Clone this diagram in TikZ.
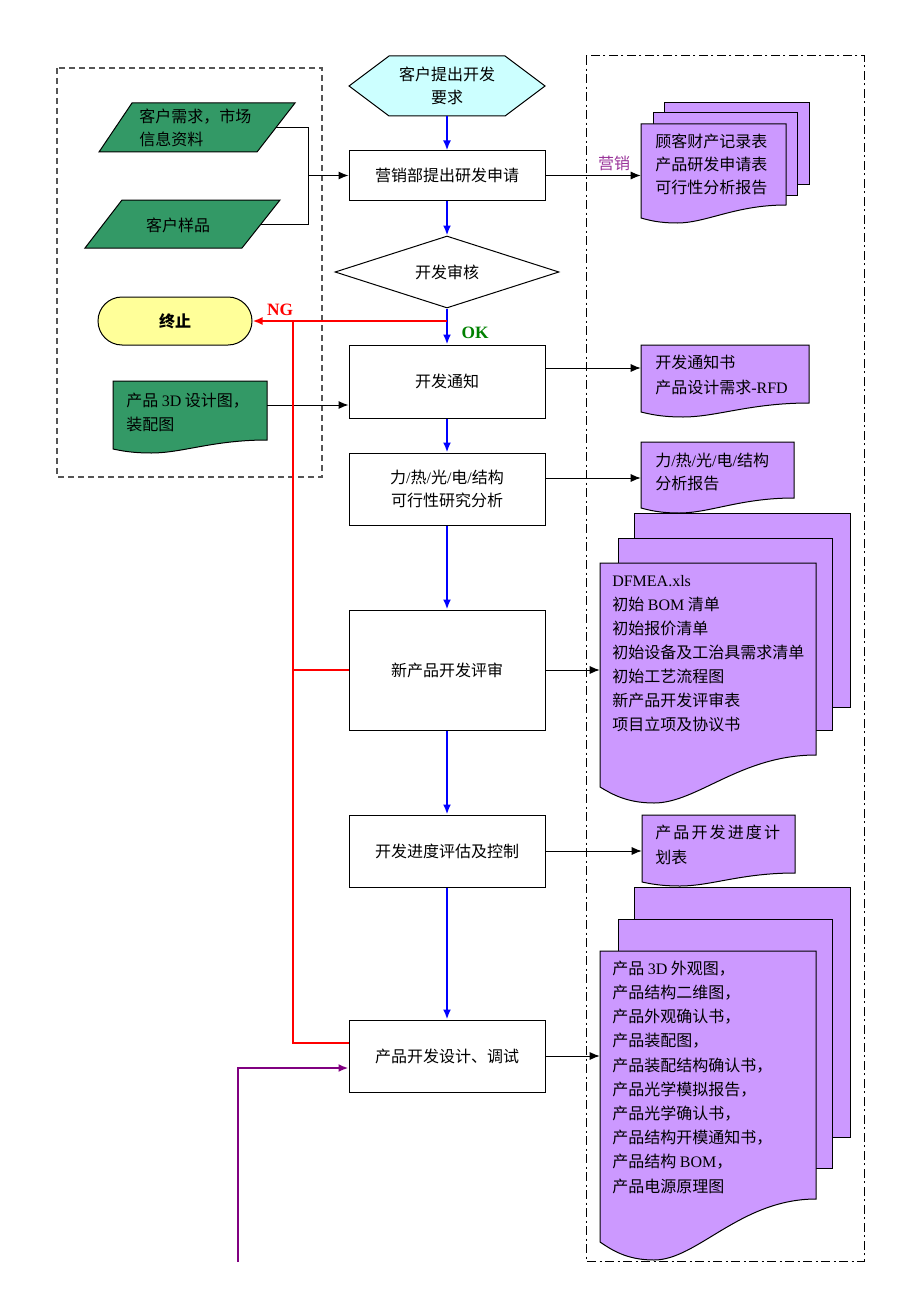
\documentclass[tikz,border=0pt]{standalone}
\usepackage{fontspec}
\setmainfont{Noto Sans CJK SC}
\newfontfamily\lat{Liberation Serif}
\usetikzlibrary{arrows.meta,shapes.geometric}
\definecolor{docfill}{HTML}{CC99FF}
\definecolor{grn}{HTML}{339966}
\definecolor{hexfill}{HTML}{CCFFFF}
\definecolor{termfill}{HTML}{FFFF99}
\definecolor{mk}{HTML}{993399}
\definecolor{pl}{HTML}{800080}
\definecolor{okgreen}{HTML}{008000}
\definecolor{dgray}{HTML}{555555}
% #1 style, #2 left, #3 top, #4 right, #5 bottom-right, #6 bottom-left, #7 lowest point
\newcommand{\docpath}[7]{%
  \draw[#1] (#2,#3) -- (#4,#3) -- (#4,#5)
    .. controls ({#4-0.35*(#4-#2)},#5) and ({#2+0.45*(#4-#2)},#7) .. ({#2+0.25*(#4-#2)},#7)
    .. controls ({#2+0.12*(#4-#2)},#7) and ({#2+0.05*(#4-#2)},{#6+0.4*(#7-#6)}) .. (#2,#6) -- cycle;}
\begin{document}
\begin{tikzpicture}[x=0.75pt,y=-0.75pt,
  font=\fontsize{12}{18}\selectfont,
  lw/.style={line width=0.75pt},
  box/.style={draw, fill=white, line width=0.75pt, minimum width=147pt, inner sep=0pt, align=center},
  flow/.style={blue, line width=1.5pt, -{Latex[length=7.5pt,width=6pt]}},
  conn/.style={black, line width=0.75pt, -{Latex[length=7.5pt,width=6pt]}},
  redline/.style={red, line width=1.5pt},
  docbg/.style={draw, fill=docfill, line width=0.75pt},
  dtext/.style={anchor=north west, inner sep=0pt, align=left},
  hold/.style={inner sep=0pt, draw=none}]
\useasboundingbox (0,0) rectangle (920,1302);

% ---- frames
\draw[dgray, line width=1pt, dash pattern=on 4.5pt off 3pt] (57,68) rectangle (322,477);
\draw[black, line width=0.75pt, dash pattern=on 7pt off 2.5pt on 1.5pt off 2.5pt] (586,56) rectangle (864,1261);

% ---- main column
\draw[fill=hexfill, lw] (349,86) -- (389,56) -- (505,56) -- (545,86) -- (505,116) -- (389,116) -- cycle;
\node[hold, minimum width=147pt, minimum height=45pt, align=center, font=\fontsize{12}{17.25}\selectfont] (req) at (447,86) {客户提出开发\\要求};
\node[box, minimum height=36.75pt] (apply) at (447,175.5) {营销部提出研发申请};
\node[draw, diamond, aspect=3.1, fill=white, minimum width=168pt, minimum height=54pt, inner sep=0pt, lw] (audit) at (447,272) {开发审核};
\node[box, minimum height=54.75pt] (notice) at (447,381.5) {开发通知};
\node[box, minimum height=54pt, font=\fontsize{12}{17.25}\selectfont] (feas) at (447,489) {力{\lat/}热{\lat/}光{\lat/}电{\lat/}结构\\可行性研究分析};
\node[box, minimum height=90pt] (review) at (447,670) {新产品开发评审};
\node[box, minimum height=54pt] (ctrl) at (447,851) {开发进度评估及控制};
\node[box, minimum height=54pt] (design) at (447,1056) {产品开发设计、调试};

% ---- left side
\draw[fill=grn, lw] (132,103) -- (295,103) -- (257,152) -- (99,152) -- cycle;
\node[hold, anchor=west, align=left, font=\fontsize{12}{17.25}\selectfont] (cust) at (139,128) {客户需求，市场\\信息资料};
\draw[fill=grn, lw] (122,200) -- (280,200) -- (242,248) -- (85,248) -- cycle;
\node[hold] (sample) at (178,225) {客户样品};
\node[draw, fill=termfill, lw, rounded corners=18pt, minimum width=115.5pt, minimum height=36pt, font=\fontsize{12}{18}\selectfont\bfseries] (term) at (175,321) {终止};
\docpath{fill=grn, draw, lw}{113}{381}{267}{440}{449}{453}
\node[hold, minimum width=115.5pt, minimum height=54pt] (gdoc) at (190,417) {};
\node[dtext] (gdtext) at (126,389) {\strut 产品 {\lat 3D} 设计图，\\装配图};

% ---- right side documents
\draw[docbg] (664,103) rectangle (809,184);
\draw[docbg] (653,113) rectangle (797,195);
\docpath{docbg}{641}{124}{786}{205}{218}{223}
\node[hold, minimum width=108.75pt, minimum height=74.25pt] (doc1) at (713.5,173.5) {};
\node[dtext, font=\fontsize{12}{17.25}\selectfont] (doc1t) at (655,131) {\strut 顾客财产记录表\\产品研发申请表\\可行性分析报告};

\docpath{docbg}{641}{345}{809}{403}{412}{417}
\node[hold, minimum width=126pt, minimum height=54pt] (doc2) at (725,381) {};
\node[dtext, font=\fontsize{12}{18.75}\selectfont] (doc2t) at (655,351) {\strut 开发通知书\\产品设计需求{\lat -RFD}};

\docpath{docbg}{641}{442}{794}{498}{508}{513}
\node[hold, minimum width=114.75pt, minimum height=53.25pt] (doc3) at (717.5,477.5) {};
\node[dtext, font=\fontsize{12}{17.25}\selectfont] (doc3t) at (655,450) {\strut 力{\lat/}热{\lat/}光{\lat/}电{\lat/}结构\\分析报告};

\draw[docbg] (634,513) rectangle (850,707);
\draw[docbg] (618,538) rectangle (832,730);
\docpath{docbg}{600}{563}{816}{755}{787}{803}
\node[hold, minimum width=162pt, minimum height=180pt] (doc5) at (708,683) {};
\node[dtext] (doc5t) at (612,569) {\strut{\lat DFMEA.xls}\\初始 {\lat BOM} 清单\\初始报价清单\\初始设备及工治具需求清单\\初始工艺流程图\\新产品开发评审表\\项目立项及协议书};

\docpath{docbg}{642}{815}{795}{873}{882}{886}
\node[hold, minimum width=114.75pt, minimum height=53.25pt] (doc4) at (718.5,850.5) {};
\node[dtext, font=\fontsize{12}{18.75}\selectfont] (doc4t) at (655,821) {\strut 产\hspace{1.6pt}品\hspace{1.6pt}开\hspace{1.6pt}发\hspace{1.6pt}进\hspace{1.6pt}度\hspace{1.6pt}计\\划表};

\draw[docbg] (634,887) rectangle (850,1137);
\draw[docbg] (618,919) rectangle (832,1168);
\docpath{docbg}{600}{951}{816}{1199}{1242}{1260}
\node[hold, minimum width=162pt, minimum height=231.75pt] (doc6) at (708,1105.5) {};
\node[dtext, font=\fontsize{12}{18.15}\selectfont] (doc6t) at (612,957) {\strut 产品 {\lat 3D} 外观图，\\产品结构二维图，\\产品外观确认书，\\产品装配图，\\产品装配结构确认书，\\产品光学模拟报告，\\产品光学确认书，\\产品结构开模通知书，\\产品结构 {\lat BOM}，\\产品电源原理图};

% ---- labels
\node[hold, text=mk] (mkt) at (614,163) {营销};
\node[hold, text=red, font=\lat\bfseries\fontsize{13}{13}\selectfont] (ng) at (280,310) {NG};
\node[hold, text=okgreen, font=\lat\bfseries\fontsize{13}{13}\selectfont] (ok) at (475,333) {OK};

% ---- blue main flow
\draw[flow] (req.south) -- (apply.north);
\draw[flow] (apply.south) -- (audit.north);
\draw[flow] (audit.south) -- (notice.north);
\draw[flow] (notice.south) -- (feas.north);
\draw[flow] (feas.south) -- (review.north);
\draw[flow] (review.south) -- (ctrl.north);
\draw[flow] (ctrl.south) -- (design.north);

% ---- left inputs
\coordinate (p1out) at (276,128);
\coordinate (p2out) at (261,224);
\coordinate (bx) at (308,176);
\draw[lw] (p1out) -| (bx |- p2out) -- (p2out);
\draw[conn] (bx |- apply.west) -- (apply.west);
\coordinate (gout) at (267,405);
\draw[conn] (gout) -- (gout -| notice.west);

% ---- outputs to documents
\draw[conn] (apply.east) -- (apply.east -| doc1.west);
\coordinate (n1) at ([yshift=10.125pt]notice.east);
\draw[conn] (n1) -- (n1 -| doc2.west);
\coordinate (f1) at ([yshift=8.25pt]feas.east);
\draw[conn] (f1) -- (f1 -| doc3.west);
\draw[conn] (review.east) -- (review.east -| doc5.west);
\draw[conn] (ctrl.east) -- (ctrl.east -| doc4.west);
\draw[conn] (design.east) -- (design.east -| doc6.west);

% ---- NG branch (red)
\coordinate (ngj) at (447,321);
\draw[redline, -{Latex[length=7.5pt,width=6pt]}] (ngj) -- (term.east);
\coordinate (ngx) at (293,321);
\coordinate (rd) at ([yshift=9.75pt]design.west);
\draw[redline] (ngx) |- (rd);
\draw[redline] (ngx |- review.west) -- (review.west);

% ---- purple return
\coordinate (pbot) at (238,1262);
\coordinate (pd) at ([yshift=-9pt]design.west);
\draw[pl, line width=1.5pt, -{Latex[length=7.5pt,width=6pt]}] (pbot) |- (pd);
\end{tikzpicture}
\end{document}
